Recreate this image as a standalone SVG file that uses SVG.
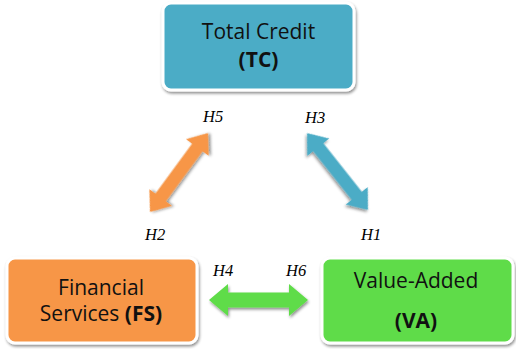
<svg xmlns="http://www.w3.org/2000/svg" width="516" height="349" viewBox="0 0 516 349">
<style>
.box{stroke:#ffffff;stroke-width:3;filter:url(#sh)}
.t{font-family:"Open Sans","Noto Sans",sans-serif;font-size:21px;fill:#111;text-anchor:middle}
.b{font-weight:bold}
.h{font-family:"Liberation Serif",serif;font-style:italic;font-size:16.5px;fill:#000}
.arr{filter:url(#sh)}
</style>
<defs>
<filter id="sh" x="-20%" y="-20%" width="140%" height="140%">
<feGaussianBlur in="SourceAlpha" stdDeviation="1.8"/>
<feOffset dx="1" dy="2" result="o"/>
<feComponentTransfer><feFuncA type="linear" slope="0.45"/></feComponentTransfer>
<feMerge><feMergeNode/><feMergeNode in="SourceGraphic"/></feMerge>
</filter>
<polygon id="dbl" points="-49,0 -31,-14 -31,-6.5 31,-6.5 31,-14 49,0 31,14 31,6.5 -31,6.5 -31,14"/>
</defs>
<rect width="516" height="349" fill="#ffffff"/>
<g id="connectors">
<use href="#dbl" class="arr" fill="#F79646" transform="translate(179,172.5) rotate(-53.7)"/>
<use href="#dbl" class="arr" fill="#4BACC6" transform="translate(337.5,171.5) rotate(51.6)"/>
<polygon class="arr" fill="#5FDC48" points="209,300 228,284 228,292.5 289,292.5 289,284 308,300 289,316 289,307.5 228,307.5 228,316"/>
<text class="h" x="203" y="122">H5</text>
<text class="h" x="305" y="123">H3</text>
<text class="h" x="145" y="240">H2</text>
<text class="h" x="361" y="240">H1</text>
<text class="h" x="213" y="276">H4</text>
<text class="h" x="286" y="276">H6</text>
</g>
<g id="tc">
<rect class="box" x="163" y="3" width="191" height="87" rx="8" fill="#4BACC6"/>
<text class="t" x="258.5" y="39">Total Credit</text>
<text class="t b" x="258.5" y="67">(TC)</text>
</g>
<g id="fs">
<rect class="box" x="7" y="258" width="190" height="85" rx="8" fill="#F79646"/>
<text class="t" x="101" y="295">Financial</text>
<text class="t" x="101" y="321">Services <tspan class="b">(FS)</tspan></text>
</g>
<g id="va">
<rect class="box" x="322" y="258" width="191" height="85" rx="8" fill="#5FDC48"/>
<text class="t" x="416" y="288">Value-Added</text>
<text class="t b" x="416" y="328">(VA)</text>
</g>
</svg>
